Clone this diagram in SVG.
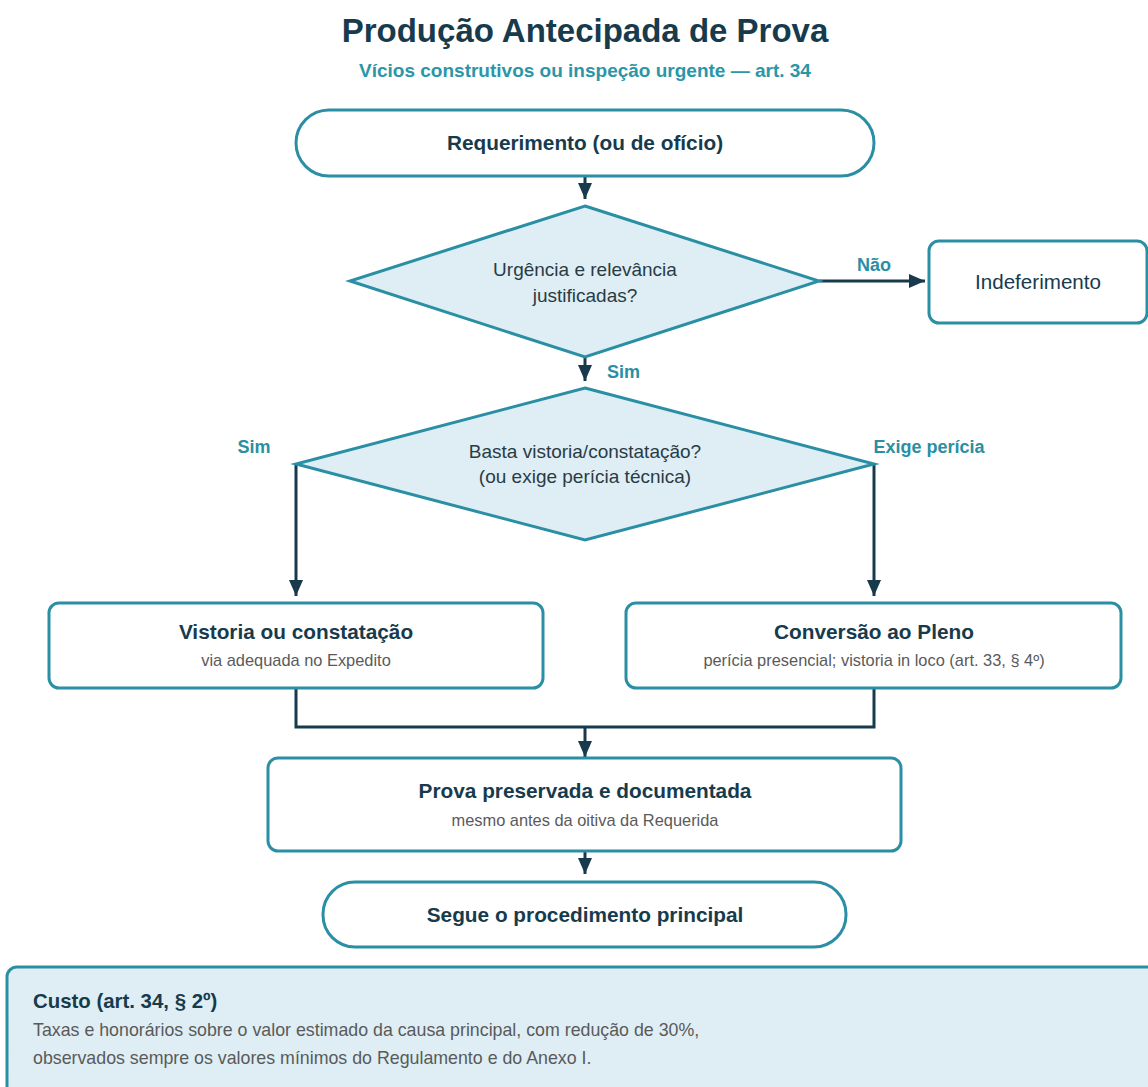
<svg xmlns="http://www.w3.org/2000/svg" width="1148" height="1087" viewBox="0 0 1148 1087">
<defs>
<marker id="ah" viewBox="0 0 16 14" refX="16" refY="7" markerWidth="16" markerHeight="14" markerUnits="userSpaceOnUse" orient="auto">
<path d="M0,0 L16,7 L0,14 Z" fill="#173b4d"/>
</marker>
<style>
text{font-family:"Liberation Sans",Arial,sans-serif;}
.node{fill:#ffffff;stroke:#2a8fa4;stroke-width:3;}
.dia{fill:#deeef4;stroke:#2a8fa4;stroke-width:3;}
.t{font-size:20.8px;font-weight:bold;fill:#173b4d;text-anchor:middle;}
.s{font-size:16.4px;fill:#5a5a5a;text-anchor:middle;}
.q{font-size:19px;fill:#2a3b45;text-anchor:middle;}
.lab{font-size:18px;font-weight:bold;fill:#2a8fa4;}
.c{fill:none;stroke:#173b4d;stroke-width:3;}
</style>
</defs>
<rect width="1148" height="1087" fill="#ffffff"/>
<text x="585" y="42" text-anchor="middle" font-size="33" font-weight="bold" fill="#173b4d">Produção Antecipada de Prova</text>
<text x="585" y="77" text-anchor="middle" font-size="19" font-weight="bold" fill="#2a96a8">Vícios construtivos ou inspeção urgente — art. 34</text>

<g id="connectors">
<line class="c" x1="585" y1="176" x2="585" y2="199" marker-end="url(#ah)"/>
<line class="c" x1="819" y1="281" x2="925" y2="281" marker-end="url(#ah)"/>
<line class="c" x1="585" y1="357" x2="585" y2="381" marker-end="url(#ah)"/>
<line class="c" x1="296" y1="464" x2="296" y2="596" marker-end="url(#ah)"/>
<line class="c" x1="874" y1="464" x2="874" y2="596" marker-end="url(#ah)"/>
<polyline class="c" points="296,688 296,727 874,727 874,688"/>
<line class="c" x1="585" y1="727" x2="585" y2="757" marker-end="url(#ah)"/>
<line class="c" x1="585" y1="851" x2="585" y2="874" marker-end="url(#ah)"/>
<text class="lab" x="874" y="271" text-anchor="middle">Não</text>
<text class="lab" x="607" y="378">Sim</text>
<text class="lab" x="254" y="453" text-anchor="middle">Sim</text>
<text class="lab" x="929" y="453" text-anchor="middle">Exige perícia</text>
</g>

<g id="start">
<rect class="node" x="296" y="110" width="578" height="66" rx="33"/>
<text class="t" x="585" y="150">Requerimento (ou de ofício)</text>
</g>

<g id="d1">
<polygon class="dia" points="585,206 819,281 585,357 350,281"/>
<text class="q" x="585" y="276">Urgência e relevância</text>
<text class="q" x="585" y="302">justificadas?</text>
</g>

<g id="indef">
<rect class="node" x="929" y="241" width="218" height="82" rx="10"/>
<text x="1038" y="289" text-anchor="middle" font-size="20.6" fill="#173b4d">Indeferimento</text>
</g>

<g id="d2">
<polygon class="dia" points="585,388 874,464 585,540 296,464"/>
<text class="q" x="585" y="458">Basta vistoria/constatação?</text>
<text class="q" x="585" y="483">(ou exige perícia técnica)</text>
</g>

<g id="vistoria">
<rect class="node" x="49" y="603" width="494" height="85" rx="10"/>
<text class="t" x="296" y="639">Vistoria ou constatação</text>
<text class="s" x="296" y="666">via adequada no Expedito</text>
</g>

<g id="pleno">
<rect class="node" x="626" y="603" width="495" height="85" rx="10"/>
<text class="t" x="874" y="639">Conversão ao Pleno</text>
<text class="s" x="874" y="666">perícia presencial; vistoria in loco (art. 33, § 4º)</text>
</g>

<g id="prova">
<rect class="node" x="268" y="758" width="633" height="93" rx="10"/>
<text class="t" x="585" y="798">Prova preservada e documentada</text>
<text class="s" x="585" y="826">mesmo antes da oitiva da Requerida</text>
</g>

<g id="end">
<rect class="node" x="323" y="882" width="523" height="65" rx="32"/>
<text class="t" x="585" y="922">Segue o procedimento principal</text>
</g>

<g id="custo">
<rect x="7" y="967" width="1160" height="130" rx="10" fill="#deeef4" stroke="#2a8fa4" stroke-width="3"/>
<text x="33" y="1008" font-size="20.4" font-weight="bold" fill="#173b4d">Custo (art. 34, § 2º)</text>
<text x="33" y="1036" font-size="17.8" fill="#5a5a5a">Taxas e honorários sobre o valor estimado da causa principal, com redução de 30%,</text>
<text x="33" y="1064" font-size="17.8" fill="#5a5a5a">observados sempre os valores mínimos do Regulamento e do Anexo I.</text>
</g>
</svg>
